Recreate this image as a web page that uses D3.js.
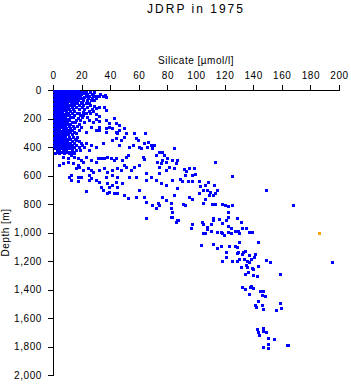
<!DOCTYPE html>
<html>
<head>
<meta charset="utf-8">
<script src="https://d3js.org/d3.v7.min.js"></script>
<style>
    body { margin: 0; background: #fff; }
    svg { font-family: "Liberation Sans", Arial, sans-serif; }
    .axis path, .axis line { stroke: #000; shape-rendering: crispEdges; }
    .axis text { font-size: 10px; fill: #000; letter-spacing: 0.6px; }
    .dot { shape-rendering: crispEdges; }
</style>
</head>
<body>
<svg id="chart"></svg>
<script>
// tick labels
const xTicks = [0, 20, 40, 60, 80, 100, 120, 140, 160, 180, 200];
const yTicks = [0, 200, 400, 600, 800, 1000, 1200, 1400, 1600, 1800, 2000];

// [silicate µmol/l, depth m]
const surfaceSamples = [
    [0.5,5],[2.5,5],[4.5,5],[6.5,5],[8.5,5],[10.5,5],[12.5,5],[14.5,5],[16,5],
    [1.5,20],[3.5,20],[5.5,20],[7.5,20],[9.5,20],[11.5,20],[13.5,20],
    [0.5,35],[2.5,35],[4.5,35],[6.5,35],[8.5,35],[10.5,35],[12.5,35],[15,35],
    [1.5,50],[3.5,50],[5.5,50],[7.5,50],[9.5,50],[11.5,50],[13.5,50],
    [0.5,65],[2.5,65],[4.5,65],[6.5,65],[8.5,65],[10.5,65],[12.5,65],
    [1.5,80],[3.5,80],[5.5,80],[7.5,80],[9.5,80],[11.5,80],
    [0.5,95],[2.5,95],[4.5,95],[6.5,95],[8.5,95],[10,95],
    [1.5,110],[3.5,110],[5.5,110],[7.5,110],[9,110],
    [0.5,125],[2.5,125],[4.5,125],[6.5,125],[8,125],
    [1.5,140],[3.5,140],[5.5,140],[7.5,140],
    [0.5,155],[2.5,155],[4.5,155],[6.5,155],[9,155],
    [1.5,170],[3.5,170],[5.5,170],[8,170],
    [0.5,185],[2.5,185],[4.5,185],[6.5,185],
    [1.5,200],[3.5,200],[5.5,200],[7.5,200],[10,200],
    [0.5,215],[2.5,215],[4.5,215],[6.5,215],
    [1.5,230],[3.5,230],[5.5,230],[8,230],
    [0.5,245],[2.5,245],[4.5,245],[6.5,245],
    [1.5,260],[3.5,260],[5.5,260],[7.5,260],
    [0.5,275],[2.5,275],[4.5,275],[7,275],
    [1.5,290],[3.5,290],[5.5,290],[8,290],
    [0.5,305],[2.5,305],[4.5,305],[6.5,305],
    [1.5,320],[3.5,320],[5.5,320],[7.5,320],
    [0.5,335],[2.5,335],[4.5,335],[6.5,335],
    [1.5,350],[3.5,350],[5.5,350],[8,350],
    [0.5,365],[2.5,365],[4.5,365],[6.5,365],
    [1.5,380],[3.5,380],[5.5,380],[7.5,380],[10,380],
    [0.5,395],[2.5,395],[4.5,395],[6.5,395],[9,395],
    [1.5,410],[3.5,410],[5.5,410],[8,410],[11,410],
    [2.5,425],[4.5,425],[7,425],
    [17.4,5],[18.4,35],[21.9,47],[24.2,58],[25.3,42],[26.5,70],[19.5,82],[23,94],
    [28.8,112],[30,129],[32.3,117],[35.8,117],[37,47],[36.5,35],[22,20],[28,25],
    [30,40],[21,12],[17,15],[15,45],[18,55],[13.5,75],[16,85],
    // ragged right edge of the dense surface cluster
    [13,12],[15.5,12],[18,12],[20,12],[23,12],[26,12],[29,12],
    [14.5,28],[17,28],[19.5,28],[24,28],[27,28],[33,28],
    [14,42],[16.5,42],[19,42],[23,42],[28,42],[32,42],[35,42],
    [14,58],[16,58],[19.5,58],[21,58],[27.5,58],[30,58],
    [14,72],[15.5,72],[17.5,72],[21,72],[24,72],[29,72],
    [12.5,88],[14,88],[17,88],[20.5,88],[25,88],
    [11,102],[12.5,102],[15,102],[18,102],[21,102],[26,102],
    [10.5,118],[13,118],[16,118],[20,118],[24,118],
    [9.5,132],[11,132],[14,132],[18,132],[22,132],[27,132],
    [9,148],[12,148],[15,148],[25,148],[28,148],
    [10.5,162],[13.5,162],[17,162],[26,162],
    [9.5,178],[11,178],[15,178],[19,178],[21,178],
    [8.5,192],[12,192],[14,192],[20,192],[24,192],
    [8.5,208],[11.5,208],[16,208],[19,208],
    [9.5,222],[13,222],[15.5,222],
    [9.5,238],[12,238],[18,238],
    [8.5,252],[11,252],[14,252],[16.5,252],
    [9,268],[12,268],[15,268],
    [9.5,282],[11.5,282],[13.5,282],[18,282],
    [9.5,298],[12,298],[15,298],
    [8.5,312],[10.5,312],[13,312],
    [8.5,328],[11,328],[14,328],[17,328],
    [9.5,342],[12,342],[15.5,342],
    [8.5,358],[10,358],[13,358],[18,358],
    [8.5,372],[12,372],[14.5,372],
    [8,388],[11.5,388],[13,388],[16,388],[20,388],
    [10,402],[12.5,402],[15,402],[18,402],[22,402],
    [9,418],[13,418],[16,418],[19,418],[25,418],
    [5.5,432],[9.5,432],[12,432],[14,432],
    [1.5,445],[4,445],[11,445],[15,445]
];

const upperSamples = [
    [20.7,152],[18.4,164],[23,164],[30,171],[32.3,183],[37,140],[42.8,199],[17.2,199],
    [21.9,222],[25.3,211],[27.7,222],[30,206],[32.3,218],[37,211],[39.3,229],[44,234],
    [46.3,246],[19.5,257],[26.5,257],[32.3,257],[37,269],[39.3,257],[41.6,269],[46.3,281],
    [49.8,269],[32.3,281],[37,297],[44,293],[45.1,304],[50.9,304],[30,281],[23,293],
    [16,304],[14.9,293],
    [16,351],[19.5,374],[23,374],[26.5,386],[30,398],[34.7,374],[41.6,351],[46.3,386],
    [49.8,328],[44,339],[47.4,351],[56.7,300],[57.9,339],[59.1,351],[64.2,304],[63.7,374],
    [60.2,398],[53.3,398],[55.6,386],[61.4,410],[66,398],[66.7,363],[68.4,386],[70.7,386],
    [69.5,410],[74.2,433],[76.5,433],[77.7,456],[71.9,456],[80,480],[78.8,503],[76.5,491],
    [75.3,515],[73,503],[74.2,538],[81.2,538],[83.5,491],[84.7,410],[85.8,515],[84.7,550],
    [87,491],[78.8,562],[74.2,585]
];

const middleSamples = [
    [3.3,433],[6.7,468],[7.9,445],[10.2,480],[12.6,456],[14.9,468],[17.2,480],[19.5,491],
    [20.7,503],[23,468],[26.5,491],[30,503],[31.2,480],[33.5,480],[35.8,480],[38.1,468],
    [40.5,480],[42.8,491],[44,480],[48.6,491],[50.9,468],[52.1,456],[63.7,487],[62.6,468],
    [4.4,527],[6.7,515],[10.2,503],[13.7,515],[17.2,527],[16,550],[18.4,538],[20.7,562],
    [24.2,550],[26.5,562],[27.7,573],[32.3,562],[35.8,550],[38.1,573],[41.6,562],[45.1,550],
    [47.4,562],[49.8,527],[50.9,543],[54.4,562],[56.7,538],[60.2,527],
    [11.4,608],[12.6,597],[17.2,608],[19.5,608],[25.3,597],[26.5,620],[25.3,632],[30,632],
    [32.3,644],[37,608],[41.6,597],[45.1,608],[44,644],[38.1,655],[41.6,667],[39.3,679],
    [45.1,679],[48.6,655],[53.3,608],[57.9,608],[64.9,585],[64.9,632],[68.4,608],[71.9,632],
    [75.3,655],[78.8,667],[83.5,632],[87,690],[12.6,632],[17.2,639],
    [23,709],[33.5,679],[34.7,702],[38.1,725],[39.3,714],[42.8,725],[45.1,725],[49.8,737],
    [52.1,761],[57.9,749],[60.2,702],[63.7,749],[64.9,784],[69.5,807],[71.9,831],[73.7,796],
    [74.2,807],[76.5,749],[78.8,772],[82.3,796],[83.5,854],[84.7,737],[82.3,831],[64.9,901],
    [82.3,889],[83.5,889],[87,913],[85.8,924]
];

const deepSamples = [
    [113.3,508],[125.4,606],[149.2,704],[167.6,807],[91.8,557],[93,566],[95.3,550],[98.8,548],
    [97,597],[92.3,597],[99.3,592],[88.8,627],[90.4,636],[94.6,639],[97,639],[102.3,639],
    [108.6,648],[106.3,667],[112.8,669],[105.1,702],[107.4,702],[109.8,714],[114.4,702],[113.3,725],
    [112.1,737],[109.3,737],[102.8,674],[102.3,725],[95.3,749],[97,768],[106.3,768],[105.1,796],
    [110.9,800],[113.3,800],[117.9,800],[120.2,807],[122.6,814],[125.4,810],[122.6,859],[122.6,889],
    [128.4,901],[131.2,929],[112.1,901],[116.3,908],[92.3,807],[91.1,800],[87.6,913],
    [96.9,942],[96.5,970],[104.4,928],[105.1,942],[107.4,959],[110.5,942],[107.9,975],[104.6,1006],
    [106.3,1006],[110.5,989],[114.4,994],[117.2,994],[117.9,1006],[119.5,1017],[122.6,952],[124.4,966],
    [122.6,994],[124.2,1006],[127.5,989],[129.6,989],[130.3,1006],[132.1,970],[134.9,970],[137.3,994],
    [139.4,999],[131.2,928],[112.1,912],[121.2,912],[118.4,935],
    [103.7,1088],[112.1,1080],[114.4,1111],[117.2,1092],[123.3,1097],[127.5,1095],[128.9,1104],[130.3,1069],
    [143.3,1064],[121.2,1139],[128.4,1146],[129.1,1139],[132.8,1134],[134.2,1127],[132.4,1153],[137.3,1155],
    [141.5,1151],[140.5,1169],[121.2,1174],[125.4,1202],[118.4,1202],[128.4,1197],[130.3,1188],[133.5,1188],
    [135.4,1202],[137.3,1209],[138.2,1188],[149.2,1195],[152,1205],[195.3,1205],
    [131.2,1244],[135.2,1228],[135.9,1244],[138.9,1251],[139.6,1258],[143.6,1237],[134.5,1293],[136.6,1275],
    [140.1,1298],[142.4,1307],[158.9,1289],
    [132.4,1385],[134.5,1394],[137.7,1380],[138.2,1373],[140.1,1392],[137.3,1429],[144.7,1410],[146.6,1410],
    [145.9,1441],[148.5,1446],[143.6,1483],[141.5,1506],[141.9,1520],[146.4,1506],[147.1,1539],[156.1,1544],
    [158.7,1492],[159.4,1532],
    [142.4,1680],[143.6,1696],[147.1,1668],[146.6,1691],[149.2,1696],[144.3,1722],[150.5,1743],[154.2,1745],
    [150.3,1785],[147.1,1806],[150.3,1813],[163.4,1792],[164.5,1792]
];

// the single highlighted (orange) sample
const flaggedSamples = [[186, 1005]];

const width = 351, height = 384;
const plot = { left: 53, right: 339, top: 90, bottom: 375 };

const svg = d3.select("#chart")
    .attr("width", width)
    .attr("height", height);

const x = d3.scaleLinear().domain([0, 200]).range([plot.left, plot.right]);
const y = d3.scaleLinear().domain([0, 2000]).range([plot.top, plot.bottom]);

// axes
svg.append("g")
    .attr("class", "axis")
    .attr("transform", `translate(0,${plot.top})`)
    .call(d3.axisTop(x).tickValues(xTicks).tickSize(5).tickSizeOuter(0).tickPadding(6));

svg.append("g")
    .attr("class", "axis")
    .attr("transform", `translate(${plot.left},0)`)
    .call(d3.axisLeft(y).tickValues(yTicks).tickSize(5).tickSizeOuter(0).tickPadding(6));

// points
const allBlue = surfaceSamples.concat(upperSamples, middleSamples, deepSamples);

svg.append("g")
    .selectAll("rect")
    .data(allBlue)
    .join("rect")
    .attr("class", "dot")
    .attr("x", d => Math.round(x(d[0])) - 1)
    .attr("y", d => Math.round(y(d[1])) - 1)
    .attr("width", 3)
    .attr("height", 3)
    .attr("fill", "#0000ff");

svg.append("g")
    .selectAll("rect")
    .data(flaggedSamples)
    .join("rect")
    .attr("class", "dot")
    .attr("x", d => Math.round(x(d[0])) - 1)
    .attr("y", d => Math.round(y(d[1])) - 1)
    .attr("width", 3)
    .attr("height", 3)
    .attr("fill", "#ffa500");

// title and axis labels
svg.append("text")
    .attr("x", (plot.left + plot.right) / 2)
    .attr("y", 13)
    .attr("text-anchor", "middle")
    .style("font-size", "12px")
    .style("letter-spacing", "2px")
    .text("JDRP in 1975");

svg.append("text")
    .attr("x", (plot.left + plot.right) / 2)
    .attr("y", 64)
    .attr("text-anchor", "middle")
    .style("font-size", "10px")
    .style("letter-spacing", "0.5px")
    .text("Silicate [µmol/l]");

svg.append("text")
    .attr("transform", `translate(9,${(plot.top + plot.bottom) / 2}) rotate(-90)`)
    .attr("text-anchor", "middle")
    .style("font-size", "10px")
    .style("letter-spacing", "0.5px")
    .text("Depth [m]");
</script>
</body>
</html>
